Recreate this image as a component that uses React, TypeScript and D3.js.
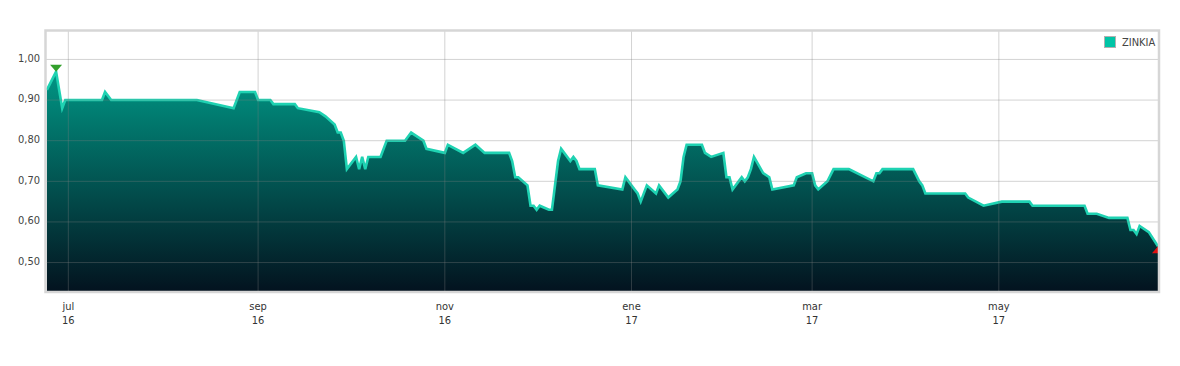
import React from "react";
import * as d3 from "d3";

const dates = [
  "2016-06-24","2016-06-27","2016-06-29","2016-06-30","2016-07-12","2016-07-13","2016-07-15",
  "2016-08-12","2016-08-24","2016-08-26","2016-08-31","2016-09-01","2016-09-05","2016-09-06",
  "2016-09-13","2016-09-14","2016-09-21","2016-09-23","2016-09-26","2016-09-27","2016-09-28",
  "2016-09-29","2016-09-30","2016-10-03","2016-10-04","2016-10-05","2016-10-06","2016-10-07",
  "2016-10-11","2016-10-13","2016-10-19","2016-10-21","2016-10-25","2016-10-26","2016-11-01",
  "2016-11-02","2016-11-07","2016-11-11","2016-11-14","2016-11-22","2016-11-23","2016-11-24",
  "2016-11-25","2016-11-28","2016-11-29","2016-11-30","2016-12-01","2016-12-02","2016-12-05",
  "2016-12-06","2016-12-08","2016-12-09","2016-12-12","2016-12-13","2016-12-14","2016-12-15",
  "2016-12-20","2016-12-21","2016-12-29","2016-12-30","2017-01-02","2017-01-03","2017-01-04",
  "2017-01-06","2017-01-09","2017-01-10","2017-01-13","2017-01-16","2017-01-17","2017-01-18",
  "2017-01-19","2017-01-24","2017-01-25","2017-01-27","2017-01-31","2017-02-01","2017-02-02",
  "2017-02-03","2017-02-06","2017-02-07","2017-02-08","2017-02-09","2017-02-10","2017-02-13",
  "2017-02-15","2017-02-16","2017-02-23","2017-02-24","2017-02-27","2017-03-01","2017-03-02",
  "2017-03-03","2017-03-06","2017-03-08","2017-03-13","2017-03-21","2017-03-22","2017-03-23",
  "2017-03-24","2017-04-03","2017-04-05","2017-04-06","2017-04-07","2017-04-20","2017-04-21",
  "2017-04-26","2017-05-02","2017-05-11","2017-05-12","2017-05-29","2017-05-30","2017-06-02",
  "2017-06-06","2017-06-12","2017-06-13","2017-06-14","2017-06-15","2017-06-16","2017-06-19",
  "2017-06-22",
];

const prices = [
  0.925,0.97,0.88,0.90,0.90,0.92,0.90,
  0.90,0.88,0.92,0.92,0.90,0.90,0.89,
  0.89,0.88,0.87,0.86,0.84,0.82,0.82,
  0.80,0.73,0.76,0.73,0.76,0.73,0.76,
  0.76,0.80,0.80,0.82,0.80,0.78,0.77,
  0.79,0.77,0.79,0.77,0.77,0.75,0.71,
  0.71,0.69,0.64,0.64,0.63,0.64,0.63,
  0.63,0.75,0.78,0.75,0.76,0.75,0.73,
  0.73,0.69,0.68,0.71,0.68,0.67,0.65,
  0.69,0.67,0.69,0.66,0.68,0.70,0.76,
  0.79,0.79,0.77,0.76,0.77,0.71,0.71,
  0.68,0.71,0.70,0.71,0.73,0.76,0.72,
  0.71,0.68,0.69,0.71,0.72,0.72,0.69,
  0.68,0.70,0.73,0.73,0.70,0.72,0.72,
  0.73,0.73,0.70,0.69,0.67,0.67,0.66,
  0.64,0.65,0.65,0.64,0.64,0.62,0.62,
  0.61,0.61,0.58,0.58,0.57,0.59,0.575,
  0.54,
];

const yTicks = [0.5, 0.6, 0.7, 0.8, 0.9, 1.0];
const xTickDates = ["2016-07-01","2016-09-01","2016-11-01","2017-01-01","2017-03-01","2017-05-01"];
const xTickMonths = ["jul","sep","nov","ene","mar","may"];
const xTickYears = ["16","16","16","17","17","17"];
const seriesName = "ZINKIA";

const parse = d3.timeParse("%Y-%m-%d");

export default function App() {
  const W = 1180, H = 366;
  const left = 46.9, right = 1158, top = 31, bottom = 291;
  const data = dates.map((d, i) => ({ date: parse(d) as Date, value: prices[i] }));
  const x = d3.scaleTime().domain(d3.extent(data, (d) => d.date) as [Date, Date]).range([left, right]);
  const y = d3.scaleLinear().domain([0.43, 1.07]).range([bottom, top]);

  const area = d3.area<any>().x((d) => x(d.date)).y0(bottom).y1((d) => y(d.value));
  const line = d3.line<any>().x((d) => x(d.date)).y((d) => y(d.value));

  const maxD = data[d3.maxIndex(data, (d) => d.value)];
  const minD = data[d3.minIndex(data, (d) => d.value)];
  const mx = x(maxD.date), my = y(maxD.value);
  const nx = x(minD.date), ny = y(minD.value);
  const fmt = (v: number) => d3.format(".2f")(v).replace(".", ",");
  const font = "'Liberation Sans Narrow', 'DejaVu Sans Condensed', 'Roboto', sans-serif";

  return (
    <svg width={W} height={H} style={{ position: "absolute", left: 0, top: 0, display: "block" }}>
      <defs>
        <linearGradient id="areaGrad" gradientUnits="userSpaceOnUse" x1="0" y1={top} x2="0" y2={bottom}>
          <stop offset="0" stopColor="#00ae97" />
          <stop offset="1" stopColor="#03131f" />
        </linearGradient>
        <clipPath id="plotClip">
          <rect x={46} y={top} width={right - 46} height={bottom - top} />
        </clipPath>
      </defs>
      <rect x={0} y={0} width={W} height={H} fill="#fff" />
      <g clipPath="url(#plotClip)">
        <path d={area(data) || ""} fill="url(#areaGrad)" />
        <path d={line(data) || ""} fill="none" stroke="#1fd2b2" strokeWidth={2.6} strokeLinejoin="miter" />
        {yTicks.map((t) => (
          <line key={"gy" + t} x1={46} x2={right} y1={y(t)} y2={y(t)} stroke="rgb(128,128,128)" strokeOpacity={0.35} strokeWidth={1} />
        ))}
        {xTickDates.map((t) => {
          const xx = x(parse(t) as Date);
          return <line key={"gx" + t} x1={xx} x2={xx} y1={top} y2={bottom} stroke="rgb(128,128,128)" strokeOpacity={0.35} strokeWidth={1} />;
        })}
        <path d={`M${mx - 6},${my - 7}L${mx + 6},${my - 7}L${mx},${my}Z`} fill="#33a02c" />
        <path d={`M${nx - 6},${ny + 7}L${nx + 6},${ny + 7}L${nx},${ny}Z`} fill="#e3100f" />
      </g>
      <rect x={45.5} y={30.5} width={right - 45.5 + 1} height={bottom - 30.5 + 1} fill="none" stroke="#d6d6d6" strokeWidth={2.5} />
      {yTicks.map((t) => (
        <text key={"ty" + t} x={40} y={y(t) - 1.5} dy="0.35em" textAnchor="end" fontSize={11} fill="#444" fontFamily={font}>
          {fmt(t)}
        </text>
      ))}
      {xTickDates.map((t, i) => {
        const xx = x(parse(t) as Date);
        return (
          <g key={"tx" + t}>
            <text x={xx} y={309.5} textAnchor="middle" fontSize={11} fill="#333" fontFamily={font}>{xTickMonths[i]}</text>
            <text x={xx} y={324} textAnchor="middle" fontSize={11} fill="#333" fontFamily={font}>{xTickYears[i]}</text>
          </g>
        );
      })}
      <rect x={1104.5} y={36.5} width={11} height={11} fill="#00c4a6" stroke="#b0b0b0" strokeWidth={1} />
      <text x={1122} y={46} fontSize={11} fill="#444" fontFamily={font}>{seriesName}</text>
    </svg>
  );
}
